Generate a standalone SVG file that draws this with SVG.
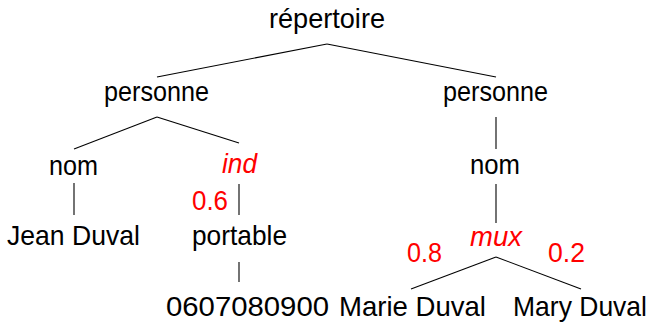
<svg xmlns="http://www.w3.org/2000/svg" width="653" height="323" viewBox="0 0 653 323">
  <style>
    text { font-family: "Liberation Sans", Arial, sans-serif; font-size: 28px; fill: #000; text-anchor: middle; }
    .red { fill: #ff0000; }
    .it { font-style: italic; }
    .edges line { stroke: #000; stroke-width: 1.1; stroke-linecap: butt; }
  </style>
  <rect width="653" height="323" fill="#fff"/>

  <!-- tree edges -->
  <g id="edges" class="edges">
    <line x1="327" y1="44" x2="157" y2="77"/>
    <line x1="327" y1="44" x2="496" y2="77"/>
    <line x1="157" y1="117" x2="74" y2="149"/>
    <line x1="157" y1="117" x2="239" y2="143"/>
    <line x1="496" y1="117" x2="496" y2="149"/>
    <line x1="74" y1="183" x2="74" y2="215"/>
    <line x1="239" y1="184" x2="239" y2="215"/>
    <line x1="496" y1="184" x2="496" y2="223"/>
    <line x1="239" y1="262" x2="239" y2="282"/>
    <line x1="496" y1="257" x2="411" y2="289"/>
    <line x1="496" y1="257" x2="581" y2="289"/>
  </g>

  <!-- nodes -->
  <g id="repertoire"><text x="327" y="28" textLength="116" lengthAdjust="spacingAndGlyphs">répertoire</text></g>
  <g id="personne-1"><text x="156.5" y="101" textLength="105" lengthAdjust="spacingAndGlyphs">personne</text></g>
  <g id="personne-2"><text x="495.5" y="101" textLength="105" lengthAdjust="spacingAndGlyphs">personne</text></g>
  <g id="nom-1"><text x="73.5" y="175" textLength="49" lengthAdjust="spacingAndGlyphs">nom</text></g>
  <g id="ind"><text class="red it" x="239.5" y="173" textLength="35" lengthAdjust="spacingAndGlyphs">ind</text></g>
  <g id="p-06"><text class="red" x="210" y="210" textLength="36" lengthAdjust="spacingAndGlyphs">0.6</text></g>
  <g id="jean-duval"><text x="73.5" y="245" textLength="133" lengthAdjust="spacingAndGlyphs">Jean Duval</text></g>
  <g id="portable"><text x="239.5" y="245" textLength="95" lengthAdjust="spacingAndGlyphs">portable</text></g>
  <g id="numero"><text x="247.5" y="316" textLength="163" lengthAdjust="spacingAndGlyphs">0607080900</text></g>
  <g id="nom-2"><text x="495" y="174" textLength="50" lengthAdjust="spacingAndGlyphs">nom</text></g>
  <g id="mux"><text class="red it" x="496" y="246" textLength="52" lengthAdjust="spacingAndGlyphs">mux</text></g>
  <g id="p-08"><text class="red" x="424.5" y="262" textLength="35" lengthAdjust="spacingAndGlyphs">0.8</text></g>
  <g id="p-02"><text class="red" x="566.5" y="262" textLength="37" lengthAdjust="spacingAndGlyphs">0.2</text></g>
  <g id="marie-duval"><text x="412.5" y="316" textLength="147" lengthAdjust="spacingAndGlyphs">Marie Duval</text></g>
  <g id="mary-duval"><text x="580" y="316" textLength="134" lengthAdjust="spacingAndGlyphs">Mary Duval</text></g>
</svg>
